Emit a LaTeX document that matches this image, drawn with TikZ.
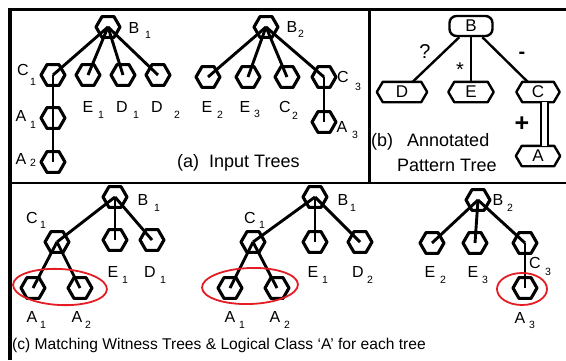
\documentclass[tikz,border=0pt]{standalone}
\usepackage{fontspec}
\setmainfont{Liberation Sans}
\usetikzlibrary{shapes.geometric}
\definecolor{mred}{RGB}{228,28,36}
\tikzset{
  hex/.style={draw, regular polygon, regular polygon sides=6, minimum size=24pt, inner sep=0pt, line width=3.1pt, line join=round},
  edge/.style={line width=2.9pt},
  frame/.style={line width=3.4pt},
  lt/.style={font=\fontsize{16}{16}\selectfont, inner sep=0pt},
  st/.style={font=\fontsize{10.5}{10.5}\selectfont, inner sep=0pt},
  captxt/.style={font=\fontsize{15.6}{16}\selectfont, inner sep=0pt, anchor=west},
  bigcap/.style={font=\fontsize{18}{18}\selectfont, inner sep=0pt, anchor=west},
  ptext/.style={font=\fontsize{17}{17}\selectfont, inner sep=0pt, minimum height=20pt},
  pline/.style={line width=2.4pt, line join=round},
  redring/.style={draw=mred, line width=1.8pt},
  sym/.style={font=\fontsize{20}{20}\selectfont, inner sep=0pt}
}
\newcommand\lab[5]{\node[lt] (#1) at (#2) {#3}; \node[st] (#1s) at (#4) {#5};}
\newcommand\pnode[4]{%
  \node[ptext, minimum width=#4] (#1) at (#2) {#3};
  \draw[pline] ([xshift=6pt]#1.north west) -- ([xshift=-6pt]#1.north east) -- (#1.east) -- ([xshift=-6pt]#1.south east) -- ([xshift=6pt]#1.south west) -- (#1.west) -- cycle;}
\begin{document}
\begin{tikzpicture}[x=1pt,y=-1pt]
\useasboundingbox (0,0) rectangle (566,360);
% frame
\coordinate (ftl) at (10,9.5);
\coordinate (ftr) at (566,9.5);
\coordinate (fbl) at (10,360);
\coordinate (fml) at (10,183);
\coordinate (fmr) at (566,183);
\coordinate (fdt) at (369.5,9.5);
\coordinate (fdb) at (369.5,183);
\draw[frame] (fbl) -- ([yshift=1.7pt]ftl) ;
\draw[frame] ([xshift=-1.7pt]ftl) -- (ftr);
\draw[line width=2.8pt] (fml) -- (fmr);
\draw[line width=3pt] (fdt) -- (fdb);

% ---------- (a) tree 1
\node[hex] (aB1) at (108,27) {};
\node[hex] (aC1) at (53,75) {};
\node[hex] (aE1) at (88,75) {};
\node[hex] (aD1) at (123,75) {};
\node[hex] (aD2) at (158,75) {};
\node[hex] (aA1) at (53,118) {};
\node[hex] (aA2) at (53,162) {};
\draw[edge] (aB1.center) -- (aC1.center);
\draw[edge] (aB1.center) -- (aE1.center);
\draw[edge] (aB1.center) -- (aD1.center);
\draw[edge] (aB1.center) -- (aD2.center);
\draw[edge] (aC1.center) -- (aA2.center);
\lab{laB1}{134,28}{B}{148,35}{1}
\lab{laC1}{23,70}{C}{33,82}{1}
\lab{laE1}{88,107}{E}{101,115}{1}
\lab{laD1}{122,107}{D}{136,115}{1}
\lab{laD2}{157,107}{D}{177,115}{2}
\lab{laA1}{21,116}{A}{33,125}{1}
\lab{laA2}{21,159}{A}{33,163}{2}

% ---------- (a) tree 2
\node[hex] (aB2) at (266,27) {};
\node[hex] (aE2) at (208,77) {};
\node[hex] (aE3) at (248,77) {};
\node[hex] (aC2) at (287,77) {};
\node[hex] (aC3) at (324,77) {};
\node[hex] (aA3) at (324,122) {};
\draw[edge] (aB2.center) -- (aE2.center);
\draw[edge] (aB2.center) -- (aE3.center);
\draw[edge] (aB2.center) -- (aC2.center);
\draw[edge] (aB2.center) -- (aC3.center);
\draw[edge] (aC3.center) -- (aA3.center);
\lab{laB2}{292,27}{B}{301,34}{2}
\lab{laE2}{207,107}{E}{220,115}{2}
\lab{laE3}{245,107}{E}{257,114}{3}
\lab{laC2}{285,107}{C}{295,116}{2}
\lab{laC3}{343,77}{C}{358,87}{3}
\lab{laA3}{342,127}{A}{355,135}{3}
\node[bigcap] (capa) at (177,163) {(a)\ \ Input Trees};

% ---------- (b) pattern tree
\node[ptext, minimum width=43pt, draw, rounded corners=7pt, line width=2.4pt] (pB) at (471,26) {B};
\pnode{pD}{402,92}{D}{50pt}
\pnode{pE}{471,92}{E}{45pt}
\pnode{pC}{538,92}{C}{43pt}
\pnode{pA}{538,156}{A}{44pt}
\draw[line width=2.4pt] (pB) -- (pD);
\draw[line width=2.4pt] (pB) -- (pE);
\draw[line width=2.4pt] (pB) -- (pC);
\draw[line width=2.4pt, double, double distance=5pt] ([xshift=6.5pt]pC.south) -- ([xshift=6.5pt]pA.north);
\node[sym] (qm) at (425,52) {?};
\node[sym] (st) at (460,70) {*};
\node[sym] (mi) at (522,55) {\textbf{-}};
\node[sym, font=\fontsize{25}{25}\selectfont\bfseries] (pl) at (522,124) {+};
\node[bigcap] (capb0) at (371,142) {(b)};
\node[bigcap] (capb1) at (407,140) {Annotated};
\node[bigcap] (capb2) at (397,165) {Pattern Tree};

% ---------- (c) tree 1
\node[hex] (cB1) at (115,197) {};
\node[hex] (cC1) at (57,242) {};
\node[hex] (cE1) at (115,240) {};
\node[hex] (cD1) at (152,240) {};
\node[hex] (cA1) at (33,288) {};
\node[hex] (cA2) at (80,288) {};
\draw[edge] (cB1.center) -- (cC1.center);
\draw[edge] (cB1.center) -- (cE1.center);
\draw[edge] (cB1.center) -- (cD1.center);
\draw[edge] (cC1.center) -- (cA1.center);
\draw[edge] (cC1.center) -- (cA2.center);
\draw[redring, rotate around={-3:(60,287)}] (60,287) ellipse [x radius=47pt, y radius=18pt];
\lab{lcB1}{143,200}{B}{157,208}{1}
\lab{lcC1}{32,218}{C}{43,225}{1}
\lab{lcE1}{113,272}{E}{125,280}{1}
\lab{lcD1}{150,272}{D}{163,280}{1}
\lab{lcA1}{32,317}{A}{43,325}{1}
\lab{lcA2}{77,317}{A}{88,325}{2}

% ---------- (c) tree 2
\node[hex] (dB1) at (315,197) {};
\node[hex] (dC1) at (253,242) {};
\node[hex] (dE1) at (315,242) {};
\node[hex] (dD2) at (360,242) {};
\node[hex] (dA1) at (230,288) {};
\node[hex] (dA2) at (277,288) {};
\draw[edge] (dB1.center) -- (dC1.center);
\draw[edge] (dB1.center) -- (dE1.center);
\draw[edge] (dB1.center) -- (dD2.center);
\draw[edge] (dC1.center) -- (dA1.center);
\draw[edge] (dC1.center) -- (dA2.center);
\draw[redring, rotate around={2:(250,286)}] (250,286) ellipse [x radius=48pt, y radius=18pt];
\lab{ldB1}{343,200}{B}{353,208}{1}
\lab{ldC1}{250,218}{C}{262,225}{1}
\lab{ldE1}{313,272}{E}{325,280}{1}
\lab{ldD2}{358,272}{D}{370,280}{2}
\lab{ldA1}{230,317}{A}{242,325}{1}
\lab{ldA2}{275,317}{A}{287,325}{2}

% ---------- (c) tree 3
\node[hex] (eB2) at (478,200) {};
\node[hex] (eE2) at (432,243) {};
\node[hex] (eE3) at (475,243) {};
\node[hex] (eC3) at (525,243) {};
\node[hex] (eA3) at (525,288) {};
\draw[edge] (eB2.center) -- (eE2.center);
\draw[edge] (eB2.center) -- (eE3.center);
\draw[edge] (eB2.center) -- (eC3.center);
\draw[edge] (eC3.center) -- (eA3.center);
\draw[redring] (522,289) ellipse [x radius=25pt, y radius=16pt];
\lab{leB2}{498,200}{B}{510,208}{2}
\lab{leE2}{430,272}{E}{443,280}{2}
\lab{leE3}{473,272}{E}{485,280}{3}
\lab{leC3}{535,263}{C}{548,272}{3}
\lab{leA3}{520,318}{A}{532,325}{3}

\node[captxt] (capc) at (12,345) {(c) Matching Witness Trees \& Logical Class ‘A’ for each tree};
\end{tikzpicture}
\end{document}
